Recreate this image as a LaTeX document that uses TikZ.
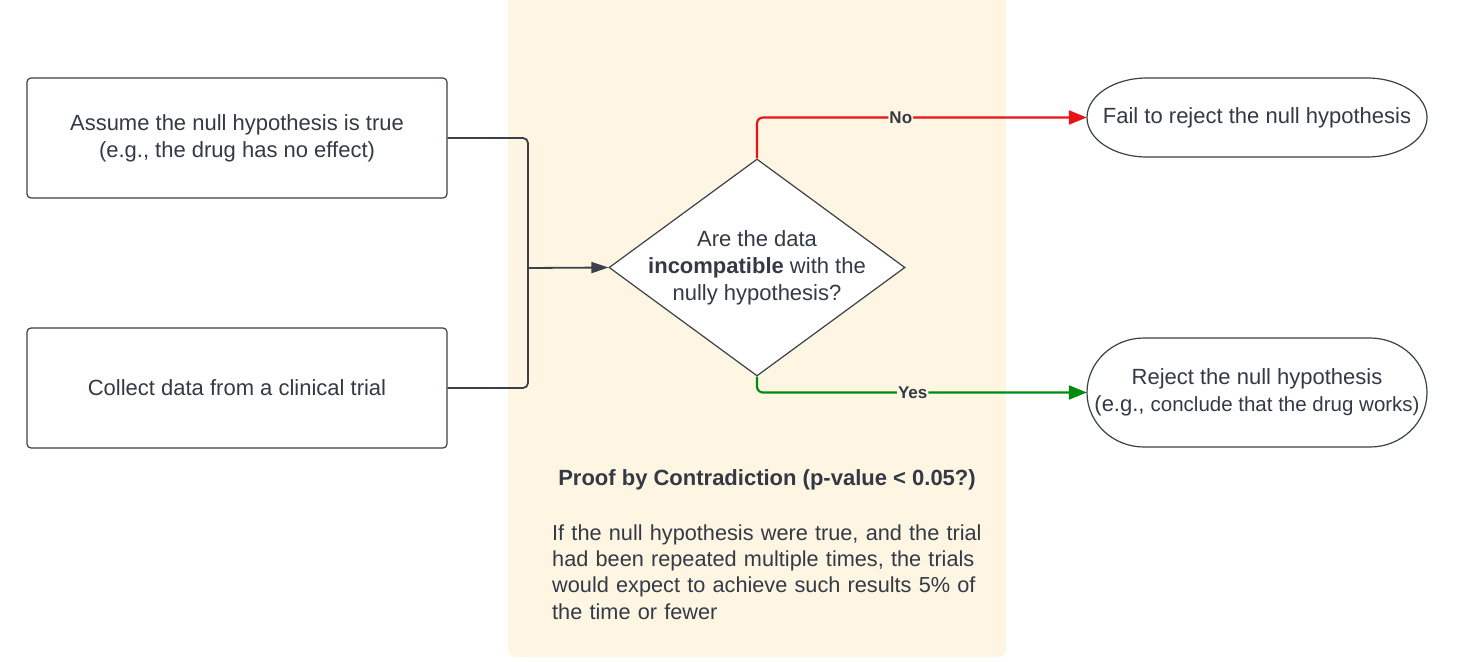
\documentclass[tikz,border=0pt]{standalone}
\usepackage{fontspec}
\setmainfont{Liberation Sans}
\usetikzlibrary{shapes.geometric,arrows.meta}
\definecolor{txt}{HTML}{333A45}
\definecolor{ln}{HTML}{3A414A}
\definecolor{bg}{HTML}{FEF5E3}
\definecolor{nored}{HTML}{E81414}
\definecolor{yesgreen}{HTML}{008A10}
\begin{document}
\begin{tikzpicture}[x=1pt,y=-1pt,
  font=\fontsize{22}{27}\selectfont, text=txt,
  box/.style={draw=ln, fill=white, line width=1.2pt, rounded corners=4pt, minimum width=420pt, minimum height=120pt, align=center, inner sep=0pt},
  term/.style={minimum width=340pt, align=center, inner sep=0pt},
  outline/.style={draw=ln, fill=white, line width=1.2pt},
  conn/.style={line width=2.2pt, rounded corners=6pt, -{Triangle[length=18pt,width=14pt]}},
  lbl/.style={font=\fontsize{17}{20}\selectfont\bfseries, fill=bg, inner sep=1pt}
]
\useasboundingbox (0,0) rectangle (1458,661);
\fill[bg, rounded corners=8pt] (508,-20) rectangle (1006,657);

\node[box] (assume) at (237,138) {Assume the null hypothesis is true\\(e.g., the drug has no effect)};
\node[box] (collect) at (237,388) {Collect data from a clinical trial};
\node[diamond, draw=ln, fill=white, line width=1.2pt, minimum width=296pt, minimum height=217pt, inner sep=0pt] (q) at (757,267.5) {};
\node[align=center, inner sep=0pt] (qt) at (q.center) {Are the data\\\textbf{incompatible} with the\\nully hypothesis?};

% terminators with elliptical ends
\path[outline] (1147,78) -- (1367,78) arc[start angle=90, end angle=-90, x radius=60pt, y radius=39.5pt]
  -- (1147,157) arc[start angle=270, end angle=90, x radius=60pt, y radius=39.5pt] -- cycle;
\node[term, minimum height=79pt] (fail) at (1257,117.5) {Fail to reject the null hypothesis};
\path[outline] (1144,338) -- (1370,338) arc[start angle=90, end angle=-90, x radius=57pt, y radius=54.5pt]
  -- (1144,447) arc[start angle=270, end angle=90, x radius=57pt, y radius=54.5pt] -- cycle;
\node[term, minimum height=109pt] (rej) at (1257,392.5) {Reject the null hypothesis\\(e.g., {\fontsize{20.5}{27}\selectfont conclude that the drug works)}};

\coordinate (j) at (528,268);
\draw[ln, line width=1.8pt, rounded corners=5pt] (assume.east) -| (j) |- (collect.east);
\draw[ln, line width=1.8pt, -{Triangle[length=17pt,width=11pt]}] (j) -- (q.west);
\draw[conn, nored] (q.north) |- node[lbl, pos=0.718, text=txt] {No} (fail.west);
\draw[conn, yesgreen] (q.south) |- node[lbl, pos=0.736, text=txt] {Yes} (rej.west);

\node[font=\fontsize{22}{27}\selectfont\bfseries] (title) at (767,480) {Proof by Contradiction (p-value < 0.05?)};
\node[anchor=west, text width=440pt, align=left, inner sep=0pt, font=\fontsize{21.7}{26.3}\selectfont] (para) at (552,572) {If the null hypothesis were true, and the trial\\had been repeated multiple times, the trials\\would expect to achieve such results 5\% of\\the time or fewer};
\end{tikzpicture}
\end{document}
